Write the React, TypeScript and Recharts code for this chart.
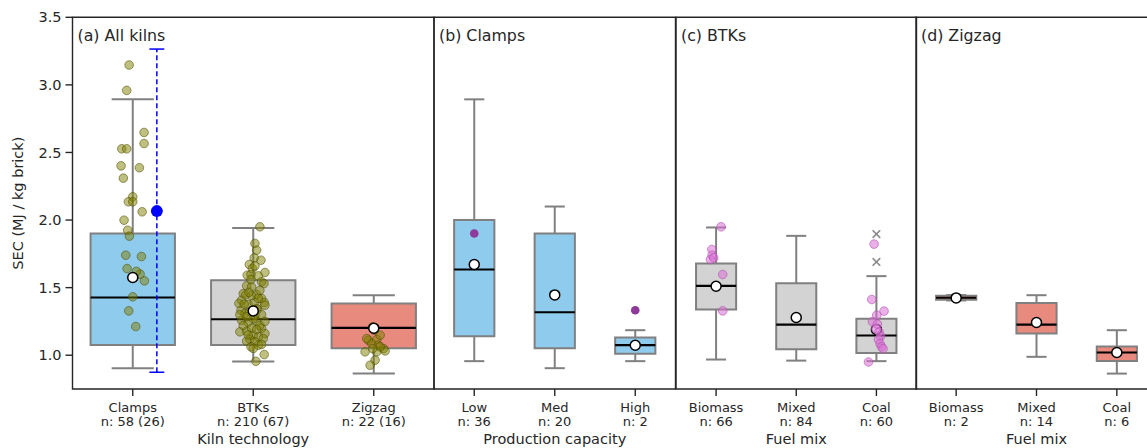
import React from "react";
import { ComposedChart, XAxis, YAxis, Scatter, ReferenceArea, ReferenceLine } from "recharts";

const FONT = "'DejaVu Sans', sans-serif";
const INK = "#262626";
const EDGE = "#808080";

// y axis shared by all panels
const yDomain = [0.75, 3.5];
const yTicks = [1.0, 1.5, 2.0, 2.5, 3.0, 3.5];

// stats per box: [whisker low, q1, median, q3, whisker high, mean]

// (a) All kilns
const kilnTypes = ["Clamps", "BTKs", "Zigzag"];
const kilnCounts = ["n: 58 (26)", "n: 210 (67)", "n: 22 (16)"];
const kilnStats = [
  [0.904, 1.076, 1.427, 1.9, 2.893, 1.575],
  [0.953, 1.076, 1.266, 1.555, 1.942, 1.328],
  [0.864, 1.052, 1.202, 1.383, 1.444, 1.2],
];
const kilnColors = ["#8fcbec", "#d3d3d3", "#e88a7e"];
// [x offset, value]
const clampPoints = [
  [-0.03, 3.147], [-0.05, 2.959], [0.094, 2.648], [0.094, 2.566], [-0.091, 2.527], [-0.05, 2.527],
  [-0.097, 2.401], [0.055, 2.387], [-0.078, 2.31], [0, 2.172], [-0.036, 2.135], [0, 2.135],
  [0.078, 2.061], [-0.072, 1.999], [-0.042, 1.925], [-0.028, 1.881], [-0.058, 1.74], [0.072, 1.73],
  [-0.047, 1.641], [0.061, 1.6], [0.097, 1.55], [0.03, 1.62], [0.01, 1.575], [0, 1.432],
  [-0.033, 1.328], [0.025, 1.212],
];
const btkPoints = [
  [0.055, 1.95], [0.014, 1.827], [0.028, 1.777], [0.008, 1.72], [0.064, 1.703], [-0.033, 1.671],
  [-0.008, 1.642], [0.097, 1.612], [-0.05, 1.592], [0.042, 1.587], [-0.019, 1.597], [0.069, 1.543],
  [0.089, 1.53], [-0.055, 1.513], [-0.014, 1.506], [-0.083, 1.456], [0.028, 1.449], [-0.097, 1.407],
  [0.069, 1.42], [0.091, 1.39], [-0.119, 1.383], [-0.042, 1.375], [0.008, 1.39], [-0.102, 1.333],
  [0.036, 1.34], [0.097, 1.37], [-0.069, 1.308], [0.069, 1.301], [-0.028, 1.321], [0.014, 1.296],
  [-0.097, 1.259], [-0.042, 1.242], [0.028, 1.252], [-0.111, 1.173], [-0.055, 1.178], [0.069, 1.198],
  [0.097, 1.16], [0, 1.148], [0.042, 1.136], [-0.028, 1.118], [0.083, 1.123], [-0.055, 1.104],
  [0.014, 1.099], [-0.019, 1.062], [0.042, 1.074], [0.091, 1.005], [0.022, 0.955],
  [-0.075, 1.377], [-0.014, 1.44], [0.042, 1.42], [-0.064, 1.446], [0.055, 1.48], [-0.036, 1.465],
  [0, 1.27], [0.055, 1.22], [-0.083, 1.22], [-0.014, 1.2], [0.028, 1.19], [0.069, 1.08],
  [0, 1.05], [-0.042, 1.15], [0.097, 1.25], [-0.055, 1.285], [-0.111, 1.3], [0.028, 1.345],
  [-0.019, 1.56], [0.014, 1.66],
];
const zigzagPoints = [
  [-0.008, 1.21], [0.006, 1.185], [-0.044, 1.111], [0.025, 1.116], [0.053, 1.148], [-0.017, 1.086],
  [0.039, 1.074], [0.08, 1.049], [0.094, 1.032], [-0.072, 1.025], [0.025, 1.025], [0.053, 1.062],
  [0.011, 0.963], [-0.03, 0.926], [-0.058, 1.123], [-0.008, 1.049],
];
// dashed range next to Clamps: [x, low, mean, high]
const clampRange = [0.2, 0.874, 2.066, 3.265];

// (b) Clamps by production capacity
const capacityLevels = ["Low", "Med", "High"];
const capacityCounts = ["n: 36", "n: 20", "n: 2"];
const capacityStats = [
  [0.956, 1.141, 1.634, 2.0, 2.893, 1.671],
  [0.904, 1.052, 1.318, 1.9, 2.1, 1.446],
  [0.956, 1.01, 1.074, 1.131, 1.185, 1.074],
];
const capacityPoints = [[0, 1.9], [2, 1.333]];

// (c) BTKs by fuel mix
const fuelMixes = ["Biomass", "Mixed", "Coal"];
const btkFuelCounts = ["n: 66", "n: 84", "n: 60"];
const btkFuelStats = [
  [0.968, 1.338, 1.513, 1.678, 1.945, 1.51],
  [0.96, 1.044, 1.227, 1.533, 1.883, 1.279],
  [0.956, 1.017, 1.146, 1.269, 1.585, 1.19],
];
const btkFuelPoints = [
  [0.062, 1.95], [-0.053, 1.782], [-0.05, 1.74], [-0.07, 1.708], [-0.029, 1.72], [0.083, 1.597], [0.083, 1.328],
  [1.971, 1.822], [1.942, 1.412], [2.095, 1.326], [2.004, 1.296], [1.95, 1.247], [1.992, 1.197],
  [2.033, 1.173], [2.054, 1.141], [2.025, 1.116], [2.045, 1.086], [2.062, 1.062], [2.083, 1.049],
  [1.901, 0.95], [2.012, 1.23],
];
const btkFuelFliers = [[2, 1.896], [2, 1.69]];

// (d) Zigzag by fuel mix
const zigzagFuelCounts = ["n: 2", "n: 14", "n: 6"];
const zigzagFuelStats = [
  [1.405, 1.41, 1.425, 1.44, 1.445, 1.424],
  [0.988, 1.16, 1.227, 1.387, 1.444, 1.242],
  [0.864, 0.958, 1.02, 1.064, 1.185, 1.02],
];

const toXY = (pts: number[][]) => pts.map(([x, y]) => ({ x, y }));
const shiftXY = (pts: number[][], i: number) => pts.map(([dx, y]) => ({ x: i + dx, y }));

function boxes(stats: number[][], fills: string[], width: number) {
  const els: React.ReactNode[] = [];
  stats.forEach(([lo, q1, med, q3, hi], i) => {
    const h = width / 2;
    const c = width / 4;
    els.push(
      <ReferenceLine key={`wl${i}`} segment={[{ x: i, y: lo }, { x: i, y: q1 }]} stroke={EDGE} strokeWidth={2} />,
      <ReferenceLine key={`wh${i}`} segment={[{ x: i, y: q3 }, { x: i, y: hi }]} stroke={EDGE} strokeWidth={2} />,
      <ReferenceLine key={`cl${i}`} segment={[{ x: i - c, y: lo }, { x: i + c, y: lo }]} stroke={EDGE} strokeWidth={2} />,
      <ReferenceLine key={`ch${i}`} segment={[{ x: i - c, y: hi }, { x: i + c, y: hi }]} stroke={EDGE} strokeWidth={2} />,
      <ReferenceArea key={`b${i}`} x1={i - h} x2={i + h} y1={q1} y2={q3} fill={fills[i]} fillOpacity={1} stroke={EDGE} strokeWidth={2} />,
      <ReferenceLine key={`m${i}`} segment={[{ x: i - h, y: med }, { x: i + h, y: med }]} stroke="#000" strokeWidth={2.2} />
    );
  });
  return els;
}

const meanDot = (p: any) => <circle cx={p.cx} cy={p.cy} r={5} fill="#fff" stroke="#000" strokeWidth={1.5} />;
const oliveDot = (p: any) => (
  <circle cx={p.cx} cy={p.cy} r={4.3} fill="#808000" fillOpacity={0.5} stroke="#4d4d00" strokeOpacity={0.55} strokeWidth={1} />
);
const pinkDot = (p: any) => (
  <circle cx={p.cx} cy={p.cy} r={4.3} fill="#da70d6" fillOpacity={0.55} stroke="#b050b0" strokeOpacity={0.6} strokeWidth={1} />
);
const purpleDot = (p: any) => <circle cx={p.cx} cy={p.cy} r={4.3} fill="#8e3a9a" />;
const blueDot = (p: any) => <circle cx={p.cx} cy={p.cy} r={6} fill="#0000ff" />;
const crossMark = (p: any) => (
  <g stroke="#8a8a8a" strokeWidth={1.6}>
    <line x1={p.cx - 3.8} y1={p.cy - 3.8} x2={p.cx + 3.8} y2={p.cy + 3.8} />
    <line x1={p.cx - 3.8} y1={p.cy + 3.8} x2={p.cx + 3.8} y2={p.cy - 3.8} />
  </g>
);

const makeTick = (names: string[], counts: string[]) => (props: any) => {
  const { x, y, payload } = props;
  const i = Math.round(payload.value);
  return (
    <text x={x} y={y} textAnchor="middle" fontFamily={FONT} fontSize={13} fill={INK}>
      <tspan x={x} dy={13.5}>{names[i]}</tspan>
      <tspan x={x} dy={14.6}>{counts[i]}</tspan>
    </text>
  );
};

type PanelProps = {
  plotLeft: number;
  plotWidth: number;
  axisWidth: number;
  title: string;
  xTitle: string;
  names: string[];
  counts: string[];
  showYLabels?: boolean;
  children: React.ReactNode;
};

function Panel({ plotLeft, plotWidth, axisWidth, title, xTitle, names, counts, showYLabels, children }: PanelProps) {
  const width = axisWidth + plotWidth + 2;
  return (
    <div style={{ position: "absolute", left: plotLeft - axisWidth, top: 0 }}>
      <ComposedChart width={width} height={448} margin={{ top: 17.3, right: 2, bottom: 0, left: 0 }}>
        <XAxis
          type="number"
          dataKey="x"
          domain={[-0.5, 2.5]}
          ticks={[0, 1, 2]}
          allowDataOverflow
          height={59}
          axisLine={false}
          tickLine={{ stroke: INK, strokeWidth: 1.4 }}
          tickSize={7}
          tick={makeTick(names, counts)}
          label={{ value: xTitle, position: "insideBottom", offset: 4, fontSize: 14.5, fill: INK, fontFamily: FONT }}
        />
        <YAxis
          type="number"
          dataKey="y"
          domain={yDomain}
          ticks={yTicks}
          allowDataOverflow
          width={axisWidth}
          axisLine={false}
          tickLine={{ stroke: INK, strokeWidth: 1.4 }}
          tickSize={7}
          tickMargin={4}
          tick={showYLabels ? { fontSize: 14.5, fill: INK, fontFamily: FONT } : false}
          tickFormatter={(v: number) => v.toFixed(1)}
          label={
            showYLabels
              ? {
                  value: "SEC (MJ / kg brick)",
                  angle: -90,
                  position: "insideLeft",
                  offset: 18,
                  fontSize: 14.5,
                  fill: INK,
                  fontFamily: FONT,
                  style: { textAnchor: "middle" },
                }
              : undefined
          }
        />
        {children}
        <ReferenceArea
          x1={-0.5}
          x2={2.5}
          y1={0.75}
          y2={3.5}
          fill="none"
          stroke={INK}
          strokeWidth={1.4}
          label={{
            content: (p: any) => (
              <text x={p.viewBox.x + 5} y={p.viewBox.y + 24} fontFamily={FONT} fontSize={15.8} fill={INK}>
                {title}
              </text>
            ),
          }}
        />
      </ComposedChart>
    </div>
  );
}

export default function App() {
  return (
    <div style={{ position: "fixed", left: 0, top: 0, width: 1147, height: 448, overflow: "hidden", background: "#fff" }}>
      <Panel plotLeft={72.5} plotWidth={361.5} axisWidth={72.5} title="(a) All kilns" xTitle="Kiln technology" names={kilnTypes} counts={kilnCounts} showYLabels>
        {boxes(kilnStats, kilnColors, 0.7)}
        <ReferenceLine segment={[{ x: clampRange[0], y: clampRange[1] }, { x: clampRange[0], y: clampRange[3] }]} stroke="#0000ff" strokeWidth={1.5} strokeDasharray="5 3" />
        <ReferenceLine segment={[{ x: clampRange[0] - 0.062, y: clampRange[1] }, { x: clampRange[0] + 0.062, y: clampRange[1] }]} stroke="#0000ff" strokeWidth={1.5} />
        <ReferenceLine segment={[{ x: clampRange[0] - 0.062, y: clampRange[3] }, { x: clampRange[0] + 0.062, y: clampRange[3] }]} stroke="#0000ff" strokeWidth={1.5} />
        <Scatter data={[...shiftXY(clampPoints, 0), ...shiftXY(btkPoints, 1), ...shiftXY(zigzagPoints, 2)]} shape={oliveDot} isAnimationActive={false} />
        <Scatter data={kilnStats.map((s, i) => ({ x: i, y: s[5] }))} shape={meanDot} isAnimationActive={false} />
        <Scatter data={[{ x: clampRange[0], y: clampRange[2] }]} shape={blueDot} isAnimationActive={false} />
      </Panel>
      <Panel plotLeft={434} plotWidth={241.5} axisWidth={10} title="(b) Clamps" xTitle="Production capacity" names={capacityLevels} counts={capacityCounts}>
        {boxes(capacityStats, ["#8fcbec", "#8fcbec", "#8fcbec"], 0.5)}
        <Scatter data={capacityStats.map((s, i) => ({ x: i, y: s[5] }))} shape={meanDot} isAnimationActive={false} />
        <Scatter data={toXY(capacityPoints)} shape={purpleDot} isAnimationActive={false} />
      </Panel>
      <Panel plotLeft={675.5} plotWidth={240.5} axisWidth={10} title="(c) BTKs" xTitle="Fuel mix" names={fuelMixes} counts={btkFuelCounts}>
        {boxes(btkFuelStats, ["#d3d3d3", "#d3d3d3", "#d3d3d3"], 0.5)}
        <Scatter data={toXY(btkFuelFliers)} shape={crossMark} isAnimationActive={false} />
        <Scatter data={btkFuelStats.map((s, i) => ({ x: i, y: s[5] }))} shape={meanDot} isAnimationActive={false} />
        <Scatter data={toXY(btkFuelPoints)} shape={pinkDot} isAnimationActive={false} />
      </Panel>
      <Panel plotLeft={916} plotWidth={241} axisWidth={10} title="(d) Zigzag" xTitle="Fuel mix" names={fuelMixes} counts={zigzagFuelCounts}>
        {boxes(zigzagFuelStats, ["#e88a7e", "#e88a7e", "#e88a7e"], 0.5)}
        <Scatter data={zigzagFuelStats.map((s, i) => ({ x: i, y: s[5] }))} shape={meanDot} isAnimationActive={false} />
      </Panel>
    </div>
  );
}
